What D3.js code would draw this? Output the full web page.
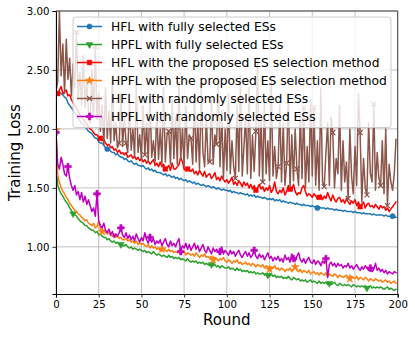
<!DOCTYPE html>
<html><head><meta charset="utf-8">
<script src="https://cdn.jsdelivr.net/npm/d3@7"></script>
<style>body{margin:0;background:#fff}svg{display:block;font-family:"DejaVu Sans",sans-serif}</style>
</head><body><svg id="c" width="415" height="337"></svg>
<script>
const xTicks = [0,25,50,75,100,125,150,175,200];
const yTicks = [1.0,1.5,2.0,2.5,3.0];
const seriesNames = ["HFL with fully selected ESs","HPFL with fully selected ESs","HFL with the proposed ES selection method","HPFL with the proposed ES selection method","HFL with randomly selected ESs","HPFL with randomly selected ESs"];
const seriesColors = ["#1f77b4","#2ca02c","#ff0000","#ff7f0e","#8c564b","#bf00bf"];
const seriesMarkers = ["circle","triangleDown","square","star","x","plus"];

const hflFull = [
2.32,2.31,2.31,2.30,2.29,2.27,2.26,2.22,2.20,2.18,
2.16,2.13,2.12,2.09,2.07,2.05,2.04,2.02,2.00,1.98,
1.97,1.96,1.94,1.92,1.92,1.89,1.88,1.88,1.86,1.84,
1.83,1.83,1.81,1.80,1.80,1.78,1.79,1.77,1.76,1.76,
1.74,1.75,1.73,1.72,1.73,1.71,1.70,1.71,1.69,1.69,
1.68,1.69,1.67,1.66,1.67,1.65,1.66,1.64,1.65,1.63,
1.63,1.63,1.62,1.61,1.62,1.60,1.61,1.60,1.59,1.60,
1.58,1.59,1.57,1.58,1.57,1.56,1.57,1.55,1.56,1.55,
1.54,1.55,1.53,1.54,1.53,1.52,1.53,1.52,1.51,1.52,
1.51,1.50,1.51,1.50,1.49,1.50,1.49,1.48,1.49,1.48,
1.48,1.47,1.48,1.46,1.47,1.46,1.46,1.45,1.46,1.45,
1.45,1.44,1.45,1.43,1.44,1.43,1.44,1.42,1.43,1.42,
1.42,1.41,1.42,1.41,1.40,1.41,1.40,1.41,1.39,1.40,
1.39,1.40,1.38,1.39,1.38,1.38,1.37,1.38,1.37,1.37,
1.36,1.37,1.36,1.36,1.35,1.36,1.35,1.35,1.35,1.34,
1.35,1.34,1.34,1.33,1.34,1.33,1.33,1.33,1.32,1.33,
1.32,1.32,1.32,1.31,1.32,1.31,1.31,1.31,1.30,1.31,
1.30,1.30,1.30,1.30,1.29,1.30,1.29,1.29,1.29,1.28,
1.29,1.28,1.28,1.28,1.28,1.27,1.28,1.27,1.27,1.27,
1.27,1.27,1.26,1.27,1.26,1.26,1.26,1.26,1.26,1.25];

const hpflFull = [
1.97,1.52,1.48,1.45,1.43,1.40,1.38,1.36,1.33,1.31,
1.28,1.27,1.26,1.24,1.22,1.21,1.20,1.18,1.18,1.16,
1.15,1.14,1.14,1.12,1.13,1.10,1.11,1.09,1.08,1.08,
1.06,1.07,1.05,1.04,1.05,1.03,1.04,1.02,1.02,1.01,
1.01,1.02,1.00,0.99,1.00,0.98,0.99,0.98,0.97,0.98,
0.97,0.96,0.97,0.95,0.96,0.95,0.94,0.96,0.94,0.93,
0.94,0.93,0.92,0.93,0.92,0.91,0.93,0.91,0.92,0.90,
0.91,0.90,0.91,0.89,0.90,0.89,0.88,0.90,0.88,0.87,
0.88,0.87,0.88,0.86,0.87,0.86,0.87,0.85,0.86,0.85,
0.84,0.85,0.84,0.85,0.83,0.84,0.82,0.84,0.83,0.82,
0.82,0.83,0.81,0.82,0.81,0.80,0.82,0.80,0.81,0.79,
0.80,0.79,0.80,0.78,0.79,0.78,0.79,0.77,0.78,0.77,
0.77,0.78,0.76,0.77,0.76,0.75,0.77,0.75,0.76,0.74,
0.75,0.74,0.75,0.73,0.74,0.73,0.75,0.73,0.72,0.74,
0.73,0.72,0.73,0.71,0.72,0.71,0.72,0.70,0.71,0.72,
0.70,0.71,0.70,0.69,0.71,0.69,0.70,0.69,0.70,0.68,
0.69,0.68,0.69,0.70,0.68,0.67,0.69,0.68,0.67,0.68,
0.67,0.68,0.67,0.66,0.68,0.67,0.66,0.67,0.66,0.67,
0.66,0.67,0.65,0.66,0.67,0.65,0.66,0.65,0.66,0.65,
0.66,0.65,0.64,0.65,0.66,0.64,0.65,0.64,0.63,0.64];

const hflProposed = [
2.31,2.30,2.33,2.36,2.30,2.31,2.33,2.28,2.29,2.25,
2.22,2.20,2.17,2.15,2.12,2.10,2.08,2.06,2.04,2.02,
2.00,1.99,1.97,1.95,1.95,1.93,1.92,1.90,1.91,1.88,
1.86,1.87,1.84,1.85,1.82,1.83,1.80,1.82,1.79,1.80,
1.78,1.80,1.76,1.77,1.78,1.75,1.77,1.74,1.76,1.73,
1.75,1.72,1.74,1.71,1.73,1.70,1.72,1.74,1.69,1.71,
1.68,1.72,1.68,1.70,1.66,1.67,1.69,1.65,1.71,1.66,
1.66,1.68,1.70,1.76,1.72,1.66,1.65,1.66,1.65,1.64,
1.66,1.62,1.64,1.61,1.65,1.62,1.60,1.64,1.59,1.61,
1.62,1.58,1.60,1.63,1.57,1.59,1.56,1.60,1.57,1.55,
1.57,1.54,1.56,1.59,1.53,1.55,1.52,1.56,1.54,1.51,
1.55,1.52,1.54,1.50,1.53,1.49,1.52,1.48,1.50,1.53,
1.49,1.51,1.47,1.50,1.48,1.52,1.46,1.49,1.55,1.47,
1.45,1.48,1.46,1.50,1.44,1.47,1.52,1.49,1.48,1.53,
1.47,1.44,1.46,1.45,1.50,1.52,1.47,1.43,1.45,1.44,
1.42,1.45,1.43,1.41,1.42,1.44,1.40,1.43,1.41,1.46,
1.42,1.39,1.44,1.40,1.38,1.41,1.42,1.38,1.40,1.37,
1.41,1.38,1.36,1.39,1.37,1.40,1.35,1.38,1.34,1.36,
1.38,1.33,1.36,1.37,1.34,1.35,1.33,1.36,1.34,1.32,
1.35,1.33,1.34,1.31,1.33,1.30,1.32,1.34,1.36,1.38];

const hpflProposed = [
1.99,1.60,1.55,1.50,1.47,1.45,1.42,1.40,1.37,1.35,
1.33,1.31,1.30,1.28,1.27,1.25,1.24,1.22,1.23,1.20,
1.19,1.18,1.20,1.16,1.17,1.22,1.15,1.13,1.14,1.12,
1.11,1.12,1.10,1.09,1.11,1.08,1.09,1.07,1.08,1.06,
1.06,1.07,1.05,1.06,1.04,1.05,1.03,1.05,1.02,1.03,
1.02,1.03,1.01,1.00,1.02,0.99,1.01,0.99,1.00,0.98,
0.99,0.97,0.98,0.99,0.97,0.96,0.98,0.96,0.97,0.95,
0.96,0.95,0.97,0.94,0.95,0.96,0.93,0.95,0.94,0.93,
0.94,0.92,0.95,0.93,0.91,0.93,0.92,0.94,0.91,0.92,
0.90,0.92,0.89,0.91,0.90,0.88,0.90,0.89,0.91,0.88,
0.87,0.89,0.88,0.86,0.88,0.87,0.89,0.86,0.87,0.85,
0.86,0.87,0.85,0.86,0.84,0.86,0.85,0.83,0.85,0.84,
0.83,0.85,0.82,0.84,0.83,0.81,0.83,0.82,0.84,0.81,
0.82,0.80,0.82,0.81,0.79,0.81,0.80,0.82,0.79,0.81,
0.83,0.80,0.79,0.81,0.78,0.80,0.79,0.78,0.80,0.77,
0.78,0.79,0.77,0.78,0.76,0.78,0.77,0.76,0.78,0.75,
0.77,0.76,0.75,0.77,0.76,0.74,0.76,0.75,0.74,0.75,
0.76,0.74,0.73,0.75,0.74,0.73,0.75,0.72,0.74,0.73,
0.72,0.74,0.73,0.71,0.73,0.72,0.71,0.73,0.72,0.71,
0.72,0.70,0.71,0.72,0.70,0.71,0.69,0.70,0.71,0.69];

const hflRandom = [
2.32,2.40,3.00,2.45,2.72,2.30,2.76,2.42,2.60,2.28,
2.55,2.35,2.82,2.25,2.48,2.20,2.62,2.18,2.40,2.15,
2.05,2.50,2.10,2.70,2.08,2.30,1.98,2.20,1.86,2.35,
1.92,2.15,1.88,2.45,1.90,2.05,1.84,1.88,2.30,1.85,
2.10,1.88,1.80,2.25,1.82,2.00,1.76,2.40,1.80,1.95,
1.74,2.20,1.78,2.05,1.72,2.30,1.76,1.90,1.72,2.15,
1.74,2.00,1.70,2.35,1.72,1.95,1.98,1.70,2.25,1.75,
2.10,1.70,2.40,1.74,2.00,1.68,2.20,1.75,1.95,1.92,
1.70,2.30,1.72,2.05,1.66,2.35,1.80,1.68,2.10,1.72,
1.72,2.25,1.70,1.95,1.87,2.40,1.68,2.15,1.57,2.00,
1.65,2.30,1.62,1.90,1.68,1.58,2.20,1.64,2.45,1.60,
1.85,2.10,1.62,2.35,1.58,1.95,1.64,1.98,2.60,1.60,
2.10,1.55,2.25,1.62,1.90,1.56,2.40,1.60,1.85,1.58,
1.68,2.20,1.55,2.05,1.52,1.71,2.30,1.50,1.95,1.56,
2.00,1.66,1.52,2.15,1.58,2.18,1.50,1.85,1.55,2.25,
1.60,2.18,1.52,1.90,1.48,2.35,1.55,1.51,1.80,2.05,
1.52,2.10,1.97,1.50,1.75,1.62,2.20,1.48,1.90,1.55,
1.72,1.41,2.00,1.60,1.45,1.85,1.52,2.30,1.97,1.38,
1.75,1.50,1.44,2.05,1.62,1.55,2.21,1.48,1.80,1.58,
1.52,1.90,1.45,2.00,1.35,1.70,1.55,1.48,1.62,1.91];

const hpflRandom = [
1.97,1.70,1.66,1.76,1.70,1.62,1.60,1.68,1.58,1.52,
1.48,1.52,1.44,1.47,1.40,1.46,1.38,1.43,1.36,1.40,
1.35,1.30,1.33,1.26,1.45,1.22,1.18,1.16,1.20,1.14,
1.12,1.15,1.10,1.13,1.08,1.11,1.09,1.12,1.16,1.10,
1.08,1.12,1.07,1.10,1.06,1.09,1.05,1.11,1.07,1.04,
1.08,1.05,1.12,1.06,1.03,1.08,1.04,1.07,1.02,1.05,
1.03,1.06,1.01,1.04,1.07,1.02,1.00,1.05,1.01,1.03,
1.00,1.04,1.07,0.96,1.01,0.99,1.03,0.98,1.02,0.97,
1.00,1.03,0.98,1.01,0.96,0.99,1.02,0.97,0.95,1.00,
0.97,0.94,0.99,0.96,0.98,0.95,0.96,1.00,0.94,0.97,
0.95,0.93,0.97,0.94,0.96,0.92,0.95,0.97,0.93,0.91,
0.94,0.96,0.92,0.95,0.91,0.93,0.97,0.92,0.90,0.94,
0.91,0.93,0.89,0.92,0.95,0.90,0.92,0.88,0.91,0.89,
0.92,0.88,0.90,0.87,0.93,0.89,0.91,0.87,0.94,0.90,
0.88,0.92,0.95,0.89,0.87,0.90,0.86,0.89,0.91,0.87,
0.86,0.89,0.85,0.88,0.87,0.84,0.88,0.86,0.90,0.74,
0.85,0.87,0.84,0.86,0.83,0.86,0.84,0.85,0.82,0.84,
0.83,0.86,0.82,0.84,0.81,0.83,0.85,0.82,0.80,0.83,
0.81,0.84,0.82,0.80,0.82,0.79,0.81,0.86,0.80,0.82,
0.79,0.81,0.78,0.80,0.77,0.79,0.78,0.77,0.79,0.78];

const markerRounds = [
  [30, 153, 197],
  [10, 38, 91, 124, 160, 182],
  [1, 26, 64, 77, 117, 137, 154, 178],
  [0, 27, 62, 92, 125, 140, 172],
  [12, 23, 37, 41, 52, 66, 79, 90, 94, 105, 117, 121, 130, 135, 141, 145, 151, 157, 162, 171, 178, 182, 186, 190, 194],
  [0, 7, 24, 38, 55, 73, 96, 116, 139, 158, 184]
];

const allSeries = [hflFull, hpflFull, hflProposed, hpflProposed, hflRandom, hpflRandom];

const svg = d3.select("#c");
const L = 56, R = 397.7, T = 11, B = 294;
const x = d3.scaleLinear().domain([0,200]).range([L,R]);
const y = d3.scaleLinear().domain([0.6,3.0]).range([B,T]);

// grid
const grid = svg.append("g");
grid.selectAll(".gx").data(xTicks).join("line")
  .attr("x1", d=>x(d)).attr("x2", d=>x(d)).attr("y1", T).attr("y2", B)
  .attr("stroke","#b0b0b0").attr("stroke-width",0.8);
grid.selectAll(".gy").data(yTicks).join("line")
  .attr("y1", d=>y(d)).attr("y2", d=>y(d)).attr("x1", L).attr("x2", R)
  .attr("stroke","#b0b0b0").attr("stroke-width",0.8);

svg.append("clipPath").attr("id","clip").append("rect")
  .attr("x",L).attr("y",T).attr("width",R-L).attr("height",B-T);

function markerPath(type){
  switch(type){
    case "circle": return d3.symbol(d3.symbolCircle, 21)();
    case "triangleDown": return d3.symbol(d3.symbolTriangle, 20)();
    case "square": return d3.symbol(d3.symbolSquare, 22)();
    case "star": return d3.symbol(d3.symbolStar, 22)();
    case "plus": return d3.symbol(d3.symbolCross, 26)();
    case "x": return "M-2.5,-2.5L2.5,2.5M-2.5,2.5L2.5,-2.5";
  }
}
function drawMarker(g, type, color, cx, cy){
  const p = g.append("path").attr("d", markerPath(type))
    .attr("transform", `translate(${cx},${cy})` + (type==="triangleDown" ? " rotate(180)" : ""));
  if (type === "x") p.attr("fill","none").attr("stroke",color).attr("stroke-width",1.2);
  else p.attr("fill",color).attr("stroke",color).attr("stroke-width",0.5);
}

const plot = svg.append("g").attr("clip-path","url(#clip)");
const line = d3.line().x((d,i)=>x(i)).y(d=>y(d));
allSeries.forEach((s, k) => {
  plot.append("path").datum(s).attr("d", line)
    .attr("fill","none").attr("stroke",seriesColors[k]).attr("stroke-width",1.5)
    .attr("stroke-linejoin","round").attr("stroke-linecap","square");
  markerRounds[k].forEach(r => drawMarker(plot, seriesMarkers[k], seriesColors[k], x(r), y(s[r])));
});

// axes
const xa = svg.append("g").attr("transform",`translate(0,${B})`)
  .call(d3.axisBottom(x).tickValues(xTicks).tickFormat(d3.format("d")).tickSize(3.5).tickPadding(3.5));
const ya = svg.append("g").attr("transform",`translate(${L},0)`)
  .call(d3.axisLeft(y).tickValues(yTicks).tickFormat(d3.format(".2f")).tickSize(3.5).tickPadding(3));
[xa, ya].forEach(a => {
  a.selectAll("text").attr("font-size","10.2px").attr("font-family","DejaVu Sans").attr("fill","#000");
  a.selectAll("line").attr("stroke","#000").attr("stroke-width",0.8);
  a.select(".domain").attr("stroke","#000").attr("stroke-width",1);
});
// top / right spines
svg.append("line").attr("x1",L).attr("x2",R).attr("y1",T).attr("y2",T).attr("stroke","#444").attr("stroke-width",1);
svg.append("line").attr("x1",R).attr("x2",R).attr("y1",T).attr("y2",B).attr("stroke","#444").attr("stroke-width",1);

svg.append("text").attr("x",(L+R)/2).attr("y",325).attr("text-anchor","middle")
  .attr("font-size","15px").attr("fill","#000").text("Round");
svg.append("text").attr("transform",`translate(19.5,${(T+B)/2}) rotate(-90)`).attr("text-anchor","middle")
  .attr("font-size","15px").attr("fill","#000").text("Training Loss");

// legend
const lg = svg.append("g");
lg.append("rect").attr("x",73).attr("y",17).attr("width",318).attr("height",110.5).attr("rx",3)
  .attr("fill","#fff").attr("fill-opacity",0.8).attr("stroke","#cccccc").attr("stroke-width",1);
seriesNames.forEach((name,k) => {
  const cy = 26.5 + k*18;
  lg.append("line").attr("x1",77).attr("x2",102).attr("y1",cy).attr("y2",cy)
    .attr("stroke",seriesColors[k]).attr("stroke-width",1.5);
  drawMarker(lg, seriesMarkers[k], seriesColors[k], 89.5, cy);
  lg.append("text").attr("x",111).attr("y",cy+4.4).attr("font-size","12.3px").attr("fill","#000").text(name);
});
</script></body></html>
